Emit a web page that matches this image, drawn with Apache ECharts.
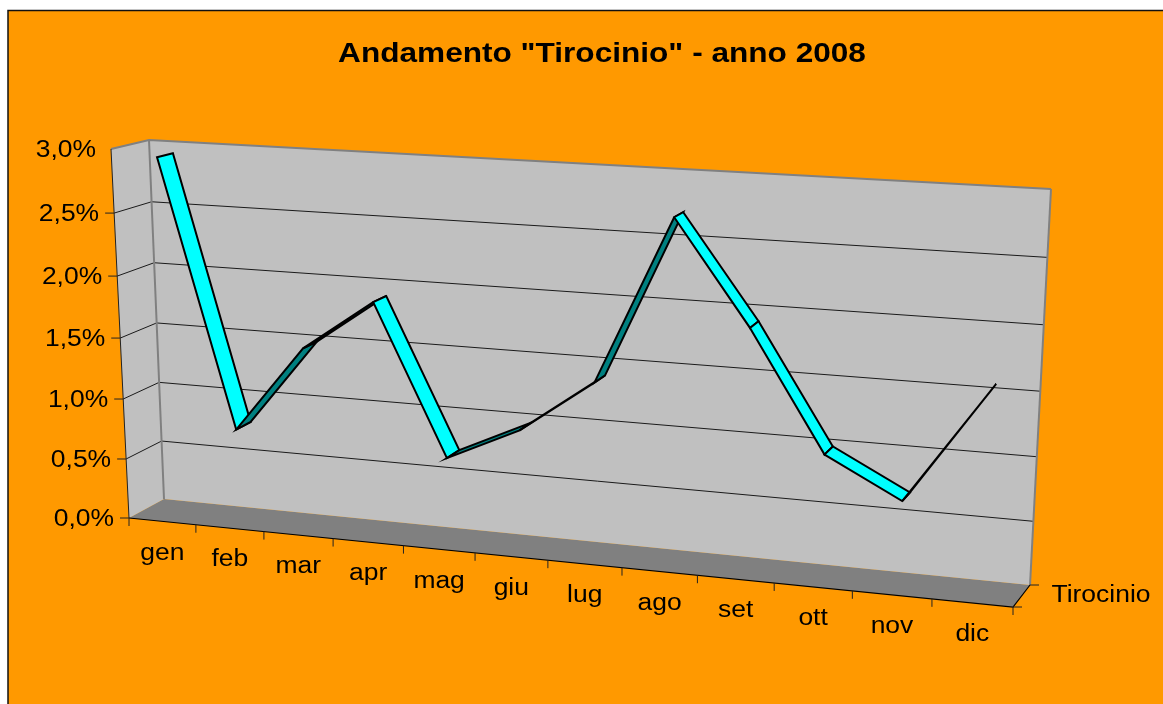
<!DOCTYPE html>
<html>
<head>
<meta charset="utf-8">
<title>Andamento Tirocinio</title>
<script src="https://cdn.jsdelivr.net/npm/echarts@6/dist/echarts.min.js"></script>
<style>
html, body { margin: 0; padding: 0; background: #fff; }
#chart { width: 1163px; height: 704px; }
</style>
</head>
<body>
<div id="chart"></div>
<script>
var months = ['gen', 'feb', 'mar', 'apr', 'mag', 'giu', 'lug', 'ago', 'set', 'ott', 'nov', 'dic'];
var values = [2.93, 0.78, 1.49, 1.9, 0.7, 0.975, 1.4, 2.7, 1.91, 0.99, 0.685, 1.57];
var yTicks = [0, 0.5, 1, 1.5, 2, 2.5, 3];
var yLabels = ['0,0%', '0,5%', '1,0%', '1,5%', '2,0%', '2,5%', '3,0%'];
var seriesName = 'Tirocinio';
var chartTitle = 'Andamento "Tirocinio" - anno 2008';

var FONT = '"Liberation Sans", Arial, sans-serif';
var STRETCH = 1.15; // the picture is wider than the text was set
var RIBBON_Z = [0.29, 0.72];

// corners of the box on screen, order: left-bottom, right-bottom, right-top, left-top
var frontPlane = makeHomography([[129, 518], [1013, 607], [1043, 200], [111, 149]]);
var backPlane = makeHomography([[164, 499], [1030, 585], [1051, 189], [149, 140]]);

function makeHomography(q) {
    var dx1 = q[1][0] - q[2][0], dx2 = q[3][0] - q[2][0], sx = q[0][0] - q[1][0] + q[2][0] - q[3][0];
    var dy1 = q[1][1] - q[2][1], dy2 = q[3][1] - q[2][1], sy = q[0][1] - q[1][1] + q[2][1] - q[3][1];
    var den = dx1 * dy2 - dx2 * dy1;
    var g = (sx * dy2 - dx2 * sy) / den;
    var h = (dx1 * sy - sx * dy1) / den;
    var a = q[1][0] - q[0][0] + g * q[1][0], b = q[3][0] - q[0][0] + h * q[3][0], c = q[0][0];
    var d = q[1][1] - q[0][1] + g * q[1][1], e = q[3][1] - q[0][1] + h * q[3][1], f = q[0][1];
    return function (u, v) {
        var w = g * u + h * v + 1;
        return [(a * u + b * v + c) / w, (d * u + e * v + f) / w];
    };
}

// data position (x in months, y in percent) + depth -> screen, through the hidden axes
function place(api, params, x, y, z) {
    var c = api.coord([x, y]);
    var r = params.coordSys;
    var u = (c[0] - r.x) / r.width;
    var v = (r.y + r.height - c[1]) / r.height;
    var p = frontPlane(u, v);
    var q = backPlane(u, v);
    return [p[0] + (q[0] - p[0]) * z, p[1] + (q[1] - p[1]) * z];
}

function poly(points, fill, stroke, width) {
    return {
        type: 'polygon',
        shape: { points: points },
        style: { fill: fill, stroke: stroke, lineWidth: width, lineJoin: 'miter' }
    };
}

function line(points, stroke, width) {
    return {
        type: 'polyline',
        shape: { points: points },
        style: { fill: null, stroke: stroke, lineWidth: width }
    };
}

function label(text, x, y, align, size) {
    return {
        type: 'text',
        x: x,
        y: y,
        scaleX: STRETCH,
        style: {
            text: text,
            fill: '#000',
            align: align,
            verticalAlign: 'middle',
            font: 'normal ' + size + 'px ' + FONT
        }
    };
}

function renderBox(params, api) {
    var P = function (x, y, z) { return place(api, params, x, y, z); };
    var out = [];
    // floor, side wall, back wall
    out.push(poly([P(0, 0, 0), P(12, 0, 0), P(12, 0, 1), P(0, 0, 1)], '#808080', null, 0));
    out.push(poly([P(0, 0, 0), P(0, 0, 1), P(0, 3, 1), P(0, 3, 0)], '#c0c0c0', null, 0));
    out.push(poly([P(0, 0, 1), P(12, 0, 1), P(12, 3, 1), P(0, 3, 1)], '#c0c0c0', null, 0));
    // grid lines run along the side wall and then the back wall
    for (var i = 1; i < yTicks.length - 1; i++) {
        var t = yTicks[i];
        out.push(line([P(0, t, 0), P(0, t, 1), P(12, t, 1)], '#1a1a1a', 1));
    }
    // wall edges
    out.push(line([P(0, 0, 1), P(0, 3, 1)], '#808080', 2));
    out.push(line([P(12, 0, 1), P(12, 3, 1)], '#808080', 2));
    out.push(line([P(0, 3, 0), P(0, 3, 1), P(12, 3, 1)], '#808080', 2));
    out.push(line([P(0, 3, 0), P(0, 0, 0)], '#222', 1));
    out.push(line([P(0, 0, 0), P(12, 0, 0), P(12, 0, 1)], '#000', 1.2));
    return { type: 'group', children: out };
}

function renderAxes(params, api) {
    var P = function (x, y, z) { return place(api, params, x, y, z); };
    var out = [], i, p;
    for (i = 0; i < yTicks.length; i++) {
        p = P(0, yTicks[i], 0);
        if (i < yTicks.length - 1) {
            out.push(line([[p[0] - 9, p[1]], p], '#222', 1));
        }
        out.push(label(yLabels[i], p[0] - 15, p[1] + 2, 'right', 23));
    }
    for (i = 0; i <= months.length; i++) {
        p = P(i, 0, 0);
        out.push(line([p, [p[0], p[1] + 8]], '#222', 1));
        if (i < months.length) {
            p = P(i + 0.5, 0, 0);
            out.push(label(months[i], p[0], p[1] + 32, 'center', 23));
        }
    }
    // depth ticks and the series name
    var f = P(12, 0, 0), b = P(12, 0, 1), m = P(12, 0, 0.5);
    out.push(line([f, [f[0] + 9, f[1]]], '#222', 1));
    out.push(line([b, [b[0] + 9, b[1]]], '#222', 1));
    out.push(label(seriesName, m[0] + 30, m[1], 'left', 23));
    return { type: 'group', children: out };
}

function renderRibbon(params, api) {
    var i = params.dataIndex;
    if (i >= values.length - 1) {
        return null;
    }
    var x0 = api.value(0), y0 = api.value(1);
    var x1 = i + 1.5, y1 = values[i + 1];
    var pts = [
        place(api, params, x0, y0, RIBBON_Z[0]),
        place(api, params, x1, y1, RIBBON_Z[0]),
        place(api, params, x1, y1, RIBBON_Z[1]),
        place(api, params, x0, y0, RIBBON_Z[1])
    ];
    // upper face is seen on the way down, lower face on the way up
    return poly(pts, y1 < y0 ? '#00ffff' : '#008080', '#000', 2);
}

var myChart = echarts.init(document.getElementById('chart'));

var option = {
    animation: false,
    backgroundColor: '#fff',
    grid: { left: 100, right: 100, top: 100, bottom: 100 },
    xAxis: { type: 'value', min: 0, max: 12, interval: 1, show: false },
    yAxis: { type: 'value', min: 0, max: 3, interval: 0.5, show: false },
    graphic: [
        {
            type: 'rect',
            z: -1,
            shape: { x: 8, y: 10.5, width: 1300, height: 900 },
            style: { fill: '#ff9900', stroke: '#111', lineWidth: 1.5 }
        },
        {
            type: 'text',
            x: 602,
            y: 55,
            scaleX: 1.17,
            style: {
                text: chartTitle,
                fill: '#000',
                align: 'center',
                verticalAlign: 'middle',
                font: 'bold 27px ' + FONT
            }
        }
    ],
    series: [
        { type: 'custom', name: 'box', clip: false, silent: true, renderItem: renderBox, data: [[0, 0]], z: 1 },
        { type: 'custom', name: 'axes', clip: false, silent: true, renderItem: renderAxes, data: [[0, 0]], z: 2 },
        {
            type: 'custom',
            name: seriesName,
            clip: false,
            renderItem: renderRibbon,
            data: values.map(function (v, i) { return [i + 0.5, v]; }),
            z: 3
        }
    ]
};

myChart.setOption(option);
</script>
</body>
</html>
